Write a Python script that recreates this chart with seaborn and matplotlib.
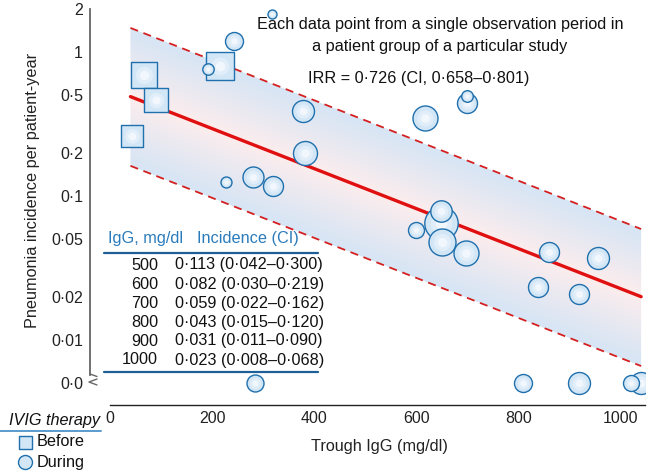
import numpy as np
import pandas as pd
import matplotlib
matplotlib.use("Agg")
import matplotlib.pyplot as plt
import seaborn as sns
from matplotlib.lines import Line2D

# ---------------- data ----------------
before_x = [67.5, 90, 44, 216]
before_y = [0.69, 0.464, 0.26, 0.80]
before_w = [27, 24, 23, 28]          # marker size (study weight)

during_x = [317, 243, 192, 377, 382, 227, 280, 319, 284, 617, 699, 699,
            649, 649, 600, 651, 697, 859, 955, 839, 919, 808, 919, 1039, 1020]
during_y = [1.84, 1.19, 0.76, 0.39, 0.199, 0.125, 0.135, 0.117, 0.0, 0.346, 0.44, 0.495,
            0.0646, 0.079, 0.058, 0.048, 0.040, 0.041, 0.037, 0.0232, 0.0208, 0.0, 0.0, 0.0, 0.0]
during_w = [4.5, 9, 5.7, 11, 12, 5.5, 10.5, 10, 8.5, 12.5, 10, 5.8,
            16.7, 10.7, 8, 13.5, 12.5, 10, 11, 10, 10, 9, 11, 11, 8]

band_x = [40, 1040]
fit_y = [0.49, 0.020]
upper_y = [1.47, 0.059]
lower_y = [0.162, 0.0066]

yticks = [2, 1, 0.5, 0.2, 0.1, 0.05, 0.02, 0.01, 0.005]
ytick_labels = ["2", "1", "0·5", "0·2", "0·1", "0·05", "0·02", "0·01", "0·0"]
xticks = [0, 200, 400, 600, 800, 1000]

table_igg = [500, 600, 700, 800, 900, 1000]
table_inc = [0.113, 0.082, 0.059, 0.043, 0.031, 0.023]
table_lo = [0.042, 0.030, 0.022, 0.015, 0.011, 0.008]
table_hi = [0.300, 0.219, 0.162, 0.120, 0.090, 0.068]

ZERO_POS = 0.005

# ---------------- style ----------------
sns.set_style("white")
plt.rcParams["font.family"] = ["Liberation Sans", "DejaVu Sans"]

W, H = 652, 472
FS = 11.7
fig = plt.figure(figsize=(W / 100, H / 100), dpi=100)
ax = fig.add_axes([90 / W, 1 - 405 / H, 555 / W, 400 / H])

XL = (-39.2, 1047.6)
YL = (0.00354, 2.12)
ax.set_xlim(*XL)
ax.set_yscale("log")
ax.set_ylim(*YL)


def P(x, y):
    return (x / W, 1 - y / H)


edge_c = "#2070ad"
face_c = "#d2e6f6"
red = "#e01010"

# ---------------- gradient band ----------------
nx, ny = 560, 400
fx = np.linspace(0, 1, nx)
fy = np.linspace(0, 1, ny)
xd = XL[0] + fx * (XL[1] - XL[0])
ly = np.log(YL[0]) + fy * (np.log(YL[1]) - np.log(YL[0]))
lfit = np.interp(xd, band_x, np.log(fit_y))
lup = np.interp(xd, band_x, np.log(upper_y))
llo = np.interp(xd, band_x, np.log(lower_y))
LY = ly[:, None]
t = np.where(LY >= lfit[None, :], (LY - lfit[None, :]) / (lup - lfit)[None, :],
             (lfit[None, :] - LY) / (lfit - llo)[None, :])
t = np.clip(t, 0, 1) ** 0.9
pink = np.array([253, 237, 237]) / 255
blue = np.array([214, 229, 245]) / 255
img = pink[None, None, :] * (1 - t[..., None]) + blue[None, None, :] * t[..., None]
im = ax.imshow(img, origin="lower", extent=[0, 1, 0, 1], transform=ax.transAxes,
               aspect="auto", zorder=0, interpolation="bilinear")
poly = ax.fill_between(band_x, lower_y, upper_y, color="none", lw=0)
im.set_clip_path(poly.get_paths()[0], poly.get_transform())

# lines
sns.lineplot(x=band_x, y=fit_y, ax=ax, color=red, lw=2.4, zorder=2)
for yy in (upper_y, lower_y):
    sns.lineplot(x=band_x, y=yy, ax=ax, color="#d42020", lw=1.3, zorder=2,
                 dashes=False, linestyle=(0, (4.5, 3.2)))

# ---------------- points ----------------
z = 3


def draw_point(x, y, s, marker):
    global z
    yv = y if y > 0 else ZERO_POS
    sns.scatterplot(x=[x], y=[yv], s=s, marker=marker, color=face_c, edgecolor=edge_c,
                    linewidth=1.0, ax=ax, zorder=z, legend=False)
    sns.scatterplot(x=[x], y=[yv], s=s * 0.40, marker="o", color="white", alpha=0.35,
                    linewidth=0, ax=ax, zorder=z + 0.1, legend=False)
    sns.scatterplot(x=[x], y=[yv], s=s * 0.12, marker="o", color="white", alpha=0.55,
                    linewidth=0, ax=ax, zorder=z + 0.2, legend=False)
    z += 1


for x, y, w in zip(before_x, before_y, before_w):
    draw_point(x, y, (0.72 * w) ** 2, "s")
order = list(range(len(during_x)))
# big cluster circle behind others
order.remove(12)
order.insert(0, 12)
for i in order:
    draw_point(during_x[i], during_y[i], (1.44 * during_w[i]) ** 2, "o")

# ---------------- axes styling ----------------
ax.set_yticks(yticks)
ax.set_yticklabels(ytick_labels)
ax.yaxis.set_minor_locator(matplotlib.ticker.NullLocator())
ax.set_xticks(xticks)
ax.set_xticklabels([str(v) for v in xticks])
ax.tick_params(axis="both", direction="in", labelsize=FS - 0.2, colors="#222222")
ax.tick_params(axis="y", length=5, width=1.1, pad=5, color="#666666")
ax.tick_params(axis="x", length=4.5, width=1.0, pad=4, color="#222222")
ax.yaxis.get_major_ticks()[-1].tick1line.set_visible(False)

for s in ["top", "right"]:
    ax.spines[s].set_visible(False)
ax.spines["left"].set_bounds(0.00575, 2)
ax.spines["left"].set_color("#666666")
ax.spines["left"].set_linewidth(1.3)
ax.spines["bottom"].set_bounds(0, XL[1])
ax.spines["bottom"].set_color("#222222")
ax.spines["bottom"].set_linewidth(1.0)

ax.set_xlabel("Trough IgG (mg/dl)", fontsize=FS, color="#222222")
ax.xaxis.set_label_coords((379 - 90) / 555, 1 - (447 - 5) / 400)
ax.xaxis.label.set_va("center")
ax.set_ylabel("Pneumonia incidence per patient-year", fontsize=FS, color="#222222")
ax.yaxis.set_label_coords((33 - 90) / 555, 1 - (190 - 5) / 400)
ax.yaxis.label.set_va("center")

# axis break mark
bx = [90, 97, 90, 97, 89, 97]
by = [374, 376.5, 379, 379, 382, 385]
fig.add_artist(Line2D([P(a, b)[0] for a, b in zip(bx[:2], by[:2])],
                      [P(a, b)[1] for a, b in zip(bx[:2], by[:2])], color="#666666", lw=1.0))
fig.add_artist(Line2D([P(a, b)[0] for a, b in zip(bx[3:], by[3:])],
                      [P(a, b)[1] for a, b in zip(bx[3:], by[3:])], color="#666666", lw=1.0))

# ---------------- annotations ----------------
fig.text(*P(440, 25), "Each data point from a single observation period in",
         ha="center", va="center", fontsize=FS, color="#111111")
fig.text(*P(440, 47), "a patient group of a particular study",
         ha="center", va="center", fontsize=FS, color="#111111")
fig.text(*P(308, 78), "IRR = 0·726 (CI, 0·658–0·801)",
         ha="left", va="center", fontsize=FS, color="#111111")

# ---------------- table ----------------
tblue = "#2a7bbb"
lblue = "#1d5f96"
fig.text(*P(108, 239), "IgG, mg/dl", ha="left", va="center", fontsize=FS, color=tblue)
fig.text(*P(197, 239), "Incidence (CI)", ha="left", va="center", fontsize=FS, color=tblue)
for yy in (253, 372):
    fig.add_artist(Line2D([104 / W, 318 / W], [1 - yy / H] * 2, color=lblue, lw=1.6))


def fmt(v):
    return f"{v:.3f}".replace(".", "·")


row_y = [265, 284.3, 303.3, 322.3, 341, 360]
for ry, g, inc, lo, hi in zip(row_y, table_igg, table_inc, table_lo, table_hi):
    fig.text(*P(158, ry), str(g), ha="right", va="center", fontsize=FS, color="#111111")
    fig.text(*P(175, ry), f"{fmt(inc)} ({fmt(lo)}–{fmt(hi)})", ha="left", va="center",
             fontsize=FS, color="#111111")

# ---------------- legend ----------------
fig.text(*P(100, 420), "IVIG therapy", ha="right", va="center", fontsize=FS,
         style="italic", color="#111111")
fig.add_artist(Line2D([0, 101 / W], [1 - 431 / H] * 2, color="#5b9bd0", lw=1.4))
leg_ax = fig.add_axes([0, 0, 1, 1], facecolor="none")
leg_ax.set_xlim(0, W)
leg_ax.set_ylim(H, 0)
leg_ax.axis("off")
sns.scatterplot(x=[25], y=[442], marker="s", s=(0.72 * 13) ** 2, color=face_c,
                edgecolor=edge_c, linewidth=1.0, ax=leg_ax, legend=False)
sns.scatterplot(x=[25], y=[462], marker="o", s=(0.72 * 14) ** 2, color=face_c,
                edgecolor=edge_c, linewidth=1.0, ax=leg_ax, legend=False)
fig.text(*P(37, 442), "Before", ha="left", va="center", fontsize=FS, color="#111111")
fig.text(*P(37, 462), "During", ha="left", va="center", fontsize=FS, color="#111111")

fig.savefig("out.png", dpi=100)
